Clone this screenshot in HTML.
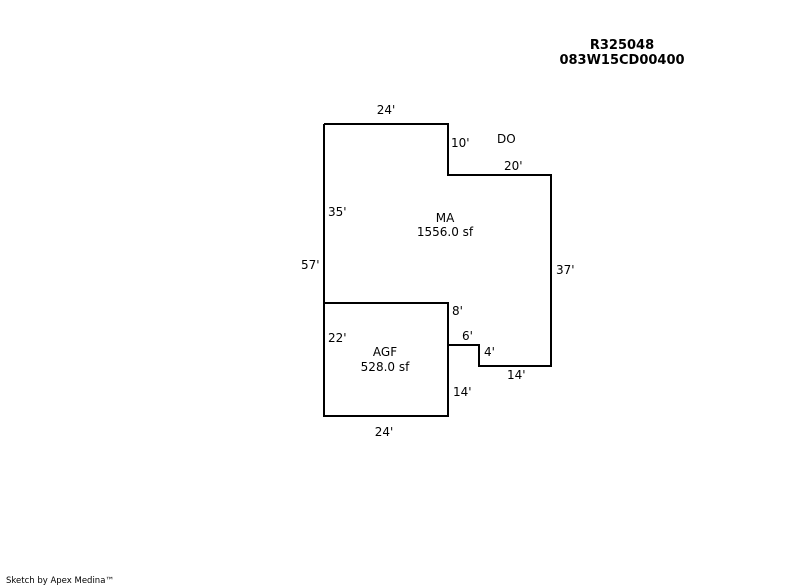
<!DOCTYPE html>
<html><head><meta charset="utf-8"><style>
html,body{margin:0;padding:0;background:#fff;}
svg{display:block;}
text{font-family:"DejaVu Sans","Liberation Sans",sans-serif;font-size:12px;fill:#000;}
</style></head><body>
<svg width="800" height="587" xmlns="http://www.w3.org/2000/svg">
<polyline points="324,124 448,124 448,175 551,175 551,366 479,366 479,345 448,345 448,416 324,416 324,124" fill="none" stroke="#000" stroke-width="2"/>
<polyline points="324,303 448,303 448,345" fill="none" stroke="#000" stroke-width="2"/>
<text x="622" y="49" text-anchor="middle" font-weight="bold" style="font-size:13px">R325048</text>
<text x="622" y="64" text-anchor="middle" font-weight="bold" style="font-size:13px">083W15CD00400</text>
<text x="386" y="114" text-anchor="middle">24'</text>
<text x="451" y="147">10'</text>
<text x="497" y="143">DO</text>
<text x="504" y="170">20'</text>
<text x="328" y="216">35'</text>
<text x="445" y="222" text-anchor="middle">MA</text>
<text x="445" y="236" text-anchor="middle">1556.0 sf</text>
<text x="301" y="269">57'</text>
<text x="556" y="274">37'</text>
<text x="452" y="315">8'</text>
<text x="328" y="342">22'</text>
<text x="462" y="340">6'</text>
<text x="385" y="356" text-anchor="middle">AGF</text>
<text x="385" y="371" text-anchor="middle">528.0 sf</text>
<text x="484" y="356">4'</text>
<text x="507" y="379">14'</text>
<text x="453" y="396">14'</text>
<text x="384" y="436" text-anchor="middle">24'</text>
<text x="6" y="583" style="font-size:8.5px">Sketch by Apex Medina™</text>
</svg>
</body></html>
